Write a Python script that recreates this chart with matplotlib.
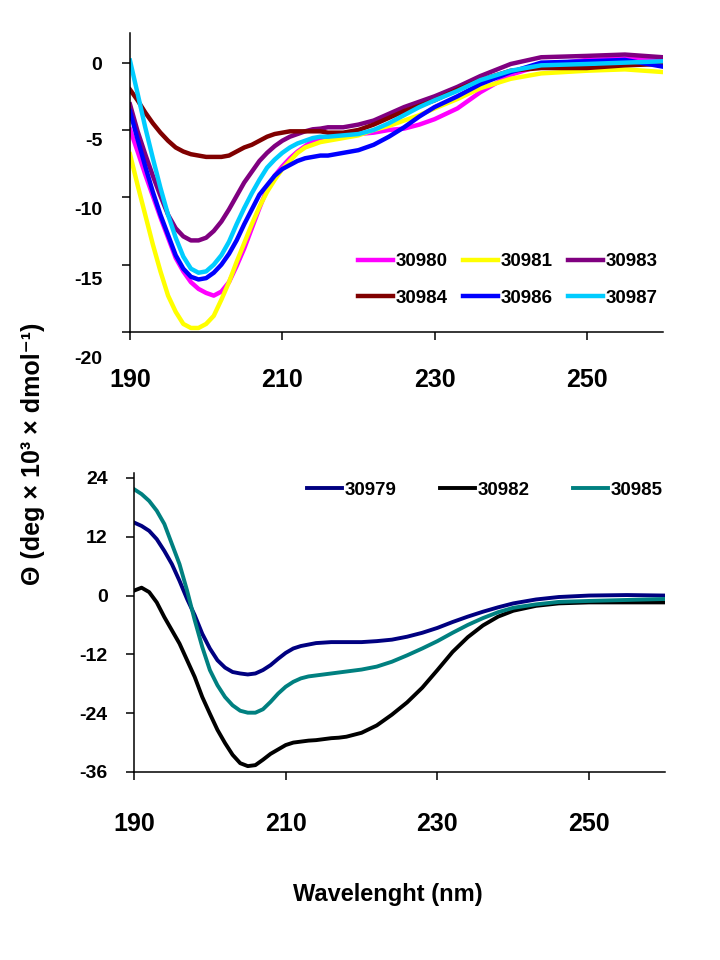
import numpy as np
import matplotlib
matplotlib.use("Agg")
import matplotlib.pyplot as plt
from matplotlib import font_manager
from matplotlib.transforms import ScaledTranslation

# top panel: wavelength (nm) and ellipticity (x 10^3)
wl_top = [190, 191, 192, 193, 194, 195, 196, 197, 198, 199, 200, 201, 202, 203, 204,
          205, 206, 207, 208, 209, 210, 211, 212, 213, 214, 215, 216,
          218, 220, 222, 224, 226, 228, 230, 233, 236, 240, 244, 250, 255, 260]
s30980 = [-4.95, -6.6, -8.3, -9.9, -11.5, -13.0, -14.5, -15.5, -16.3, -16.8, -17.1, -17.3, -17.0,
          -16.3, -15.1, -13.8, -12.3, -10.8, -9.4, -8.4, -7.7, -7.1, -6.6, -6.2, -5.8, -5.6, -5.5,
          -5.4, -5.3, -5.2, -5.0, -4.9, -4.6, -4.2, -3.4, -2.2, -0.9, -0.2, 0.2, 0.3, 0.2]
s30981 = [-6.8, -9.1, -11.3, -13.5, -15.5, -17.3, -18.5, -19.4, -19.7, -19.7, -19.4, -18.8, -17.6,
          -16.3, -14.8, -13.4, -12.0, -10.7, -9.6, -8.7, -7.9, -7.3, -6.7, -6.3, -6.1, -5.9, -5.8,
          -5.6, -5.4, -5.0, -4.7, -4.3, -3.9, -3.4, -2.7, -1.9, -1.2, -0.8, -0.6, -0.5, -0.7]
s30983 = [-3.1, -5.1, -6.8, -8.4, -9.9, -11.3, -12.3, -12.9, -13.2, -13.2, -13.0, -12.5, -11.8,
          -10.9, -9.9, -8.9, -8.1, -7.3, -6.7, -6.2, -5.8, -5.5, -5.3, -5.1, -4.95, -4.9, -4.8,
          -4.8, -4.6, -4.3, -3.8, -3.3, -2.9, -2.5, -1.8, -1.0, -0.1, 0.4, 0.5, 0.6, 0.4]
s30984 = [-2.0, -2.8, -3.7, -4.5, -5.2, -5.8, -6.3, -6.6, -6.8, -6.9, -7.0, -7.0, -7.0,
          -6.9, -6.6, -6.3, -6.1, -5.8, -5.5, -5.3, -5.2, -5.1, -5.1, -5.1, -5.1, -5.1, -5.2,
          -5.2, -5.0, -4.6, -4.1, -3.6, -3.2, -2.8, -2.0, -1.3, -0.6, -0.4, -0.4, -0.2, -0.1]
s30986 = [-3.6, -5.7, -7.7, -9.6, -11.3, -12.8, -14.3, -15.3, -15.9, -16.1, -16.0, -15.6, -15.0,
          -14.2, -13.2, -12.0, -10.9, -9.8, -9.1, -8.4, -7.9, -7.6, -7.3, -7.1, -7.0, -6.9, -6.9,
          -6.7, -6.5, -6.1, -5.5, -4.8, -4.0, -3.3, -2.5, -1.6, -0.7, 0.0, 0.1, 0.2, -0.3]
s30987 = [0.15, -2.3, -4.8, -7.1, -9.3, -11.3, -13.0, -14.4, -15.3, -15.6, -15.5, -15.0, -14.3,
          -13.3, -12.0, -10.8, -9.7, -8.7, -7.8, -7.2, -6.7, -6.3, -6.0, -5.8, -5.6, -5.5, -5.5,
          -5.4, -5.3, -5.0, -4.5, -3.9, -3.3, -2.8, -2.1, -1.3, -0.6, -0.2, -0.1, 0.0, 0.1]

# bottom panel
wl_bot = [190, 191, 192, 193, 194, 195, 196, 197, 198, 199, 200, 201, 202, 203, 204,
          205, 206, 207, 208, 209, 210, 211, 212, 213, 214, 215, 216, 217, 218,
          220, 222, 224, 226, 228, 230, 232, 234, 236, 238, 240, 243, 246, 250, 255, 260]
s30979 = [14.9, 14.2, 13.2, 11.5, 9.1, 6.4, 3.0, -0.7, -4.0, -7.8, -10.8, -13.2, -14.7, -15.6,
          -15.9, -16.1, -15.9, -15.2, -14.2, -12.9, -11.7, -10.8, -10.3, -10.0, -9.7, -9.6, -9.5,
          -9.5, -9.5, -9.5, -9.3, -9.0, -8.4, -7.6, -6.6, -5.4, -4.3, -3.3, -2.4, -1.6, -0.8,
          -0.3, 0.0, 0.1, 0.0]
s30982 = [1.0, 1.6, 0.7, -1.4, -4.4, -7.1, -9.8, -13.2, -16.6, -20.7, -24.1, -27.4, -30.1, -32.5,
          -34.2, -34.8, -34.6, -33.5, -32.3, -31.4, -30.5, -30.0, -29.8, -29.6, -29.5, -29.3, -29.1,
          -29.0, -28.8, -28.0, -26.5, -24.3, -21.8, -18.8, -15.2, -11.5, -8.5, -6.1, -4.3, -3.1,
          -2.1, -1.6, -1.4, -1.4, -1.4]
s30985 = [21.7, 20.7, 19.3, 17.3, 14.6, 10.5, 6.4, 1.0, -5.0, -10.5, -15.2, -18.3, -20.7, -22.4,
          -23.5, -23.9, -23.9, -23.2, -21.7, -20.0, -18.6, -17.6, -16.9, -16.5, -16.3, -16.1, -15.9,
          -15.7, -15.5, -15.1, -14.5, -13.5, -12.2, -10.8, -9.3, -7.6, -6.0, -4.6, -3.4, -2.5,
          -1.8, -1.3, -1.1, -0.9, -0.7]

top_names = ["30980", "30981", "30983", "30984", "30986", "30987"]
top_series = [s30980, s30981, s30983, s30984, s30986, s30987]
top_colors = ["#FF00FF", "#FFFF00", "#800080", "#800000", "#0000FF", "#00CCFF"]

bot_names = ["30979", "30982", "30985"]
bot_series = [s30979, s30982, s30985]
bot_colors = ["#000080", "#000000", "#008080"]

xticks = [190, 210, 230, 250]
top_yticks = [0, -5, -10, -15, -20]
bot_yticks = [24, 12, 0, -12, -24, -36]

installed = {f.name for f in font_manager.fontManager.ttflist}
narrow = "Liberation Sans Narrow" if "Liberation Sans Narrow" in installed else "Liberation Sans"
plt.rcParams["font.family"] = ["Liberation Sans", "DejaVu Sans"]
plt.rcParams["font.weight"] = "bold"

fig = plt.figure(figsize=(7.2, 9.6), dpi=100)
ax1 = fig.add_axes([130 / 720, 1 - 332 / 960, 533 / 720, 299 / 960])
ax2 = fig.add_axes([134 / 720, 1 - 772 / 960, 531 / 720, 299 / 960])

for ax in (ax1, ax2):
    ax.spines["top"].set_visible(False)
    ax.spines["right"].set_visible(False)
    for s in ("left", "bottom"):
        ax.spines[s].set_linewidth(1.1)
    ax.tick_params(direction="out", length=6, width=1.1, color="black")
    ax.set_xlim(190, 260)
    ax.set_xticks(xticks)

# top panel
lines = []
for name, ys, c in zip(top_names, top_series, top_colors):
    ln, = ax1.plot(wl_top, ys, color=c, lw=3.2, label=name, solid_joinstyle="round")
    lines.append(ln)
ax1.set_ylim(-20, 2.2)
ax1.set_yticks(top_yticks)
ax1.set_yticklabels([str(v) for v in top_yticks], fontsize=14, fontweight="bold")
ax1.set_xticklabels([str(v) for v in xticks], fontsize=18, fontweight="bold", family=narrow)
ax1.tick_params(axis="y", pad=14)
ax1.tick_params(axis="x", pad=20)
# the exported chart places the y labels a bit lower than their ticks
shift_px = [1, 10, 11, 14, 26]
for lab, d in zip(ax1.get_yticklabels(), shift_px):
    lab.set_transform(lab.get_transform() + ScaledTranslation(0, -d / 100, fig.dpi_scale_trans))

order = [0, 3, 1, 4, 2, 5]
ax1.legend([lines[i] for i in order], [top_names[i] for i in order], ncol=3,
           loc="center", bbox_to_anchor=(0.709, 0.174), frameon=False,
           prop={"family": narrow, "weight": "bold", "size": 13.5},
           handlelength=1.87, handletextpad=0.15, columnspacing=0.8, labelspacing=1.05)

# bottom panel
for name, ys, c in zip(bot_names, bot_series, bot_colors):
    ax2.plot(wl_bot, ys, color=c, lw=2.8, label=name, solid_joinstyle="round")
ax2.set_ylim(-36, 25)
ax2.set_yticks(bot_yticks)
ax2.set_yticklabels([str(v) for v in bot_yticks], fontsize=14, fontweight="bold")
ax2.set_xticklabels([str(v) for v in xticks], fontsize=18, fontweight="bold", family=narrow)
ax2.tick_params(axis="y", pad=13)
ax2.tick_params(axis="x", pad=23)
ax2.legend(ncol=3, loc="center", bbox_to_anchor=(0.661, 0.943), frameon=False,
           prop={"family": narrow, "weight": "bold", "size": 13.5},
           handlelength=1.87, handletextpad=0.15, columnspacing=2.3)

fig.text(388 / 720, 1 - 895 / 960, "Wavelenght (nm)", ha="center", va="center",
         fontsize=17, fontweight="bold", family=narrow)
fig.text(33 / 720, 1 - 454 / 960, "Θ (deg × 10³ × dmol⁻¹)", rotation=90,
         ha="center", va="center", fontsize=18, fontweight="bold",
         family=["Liberation Sans", "DejaVu Sans"])

fig.savefig("out.png", dpi=100)
